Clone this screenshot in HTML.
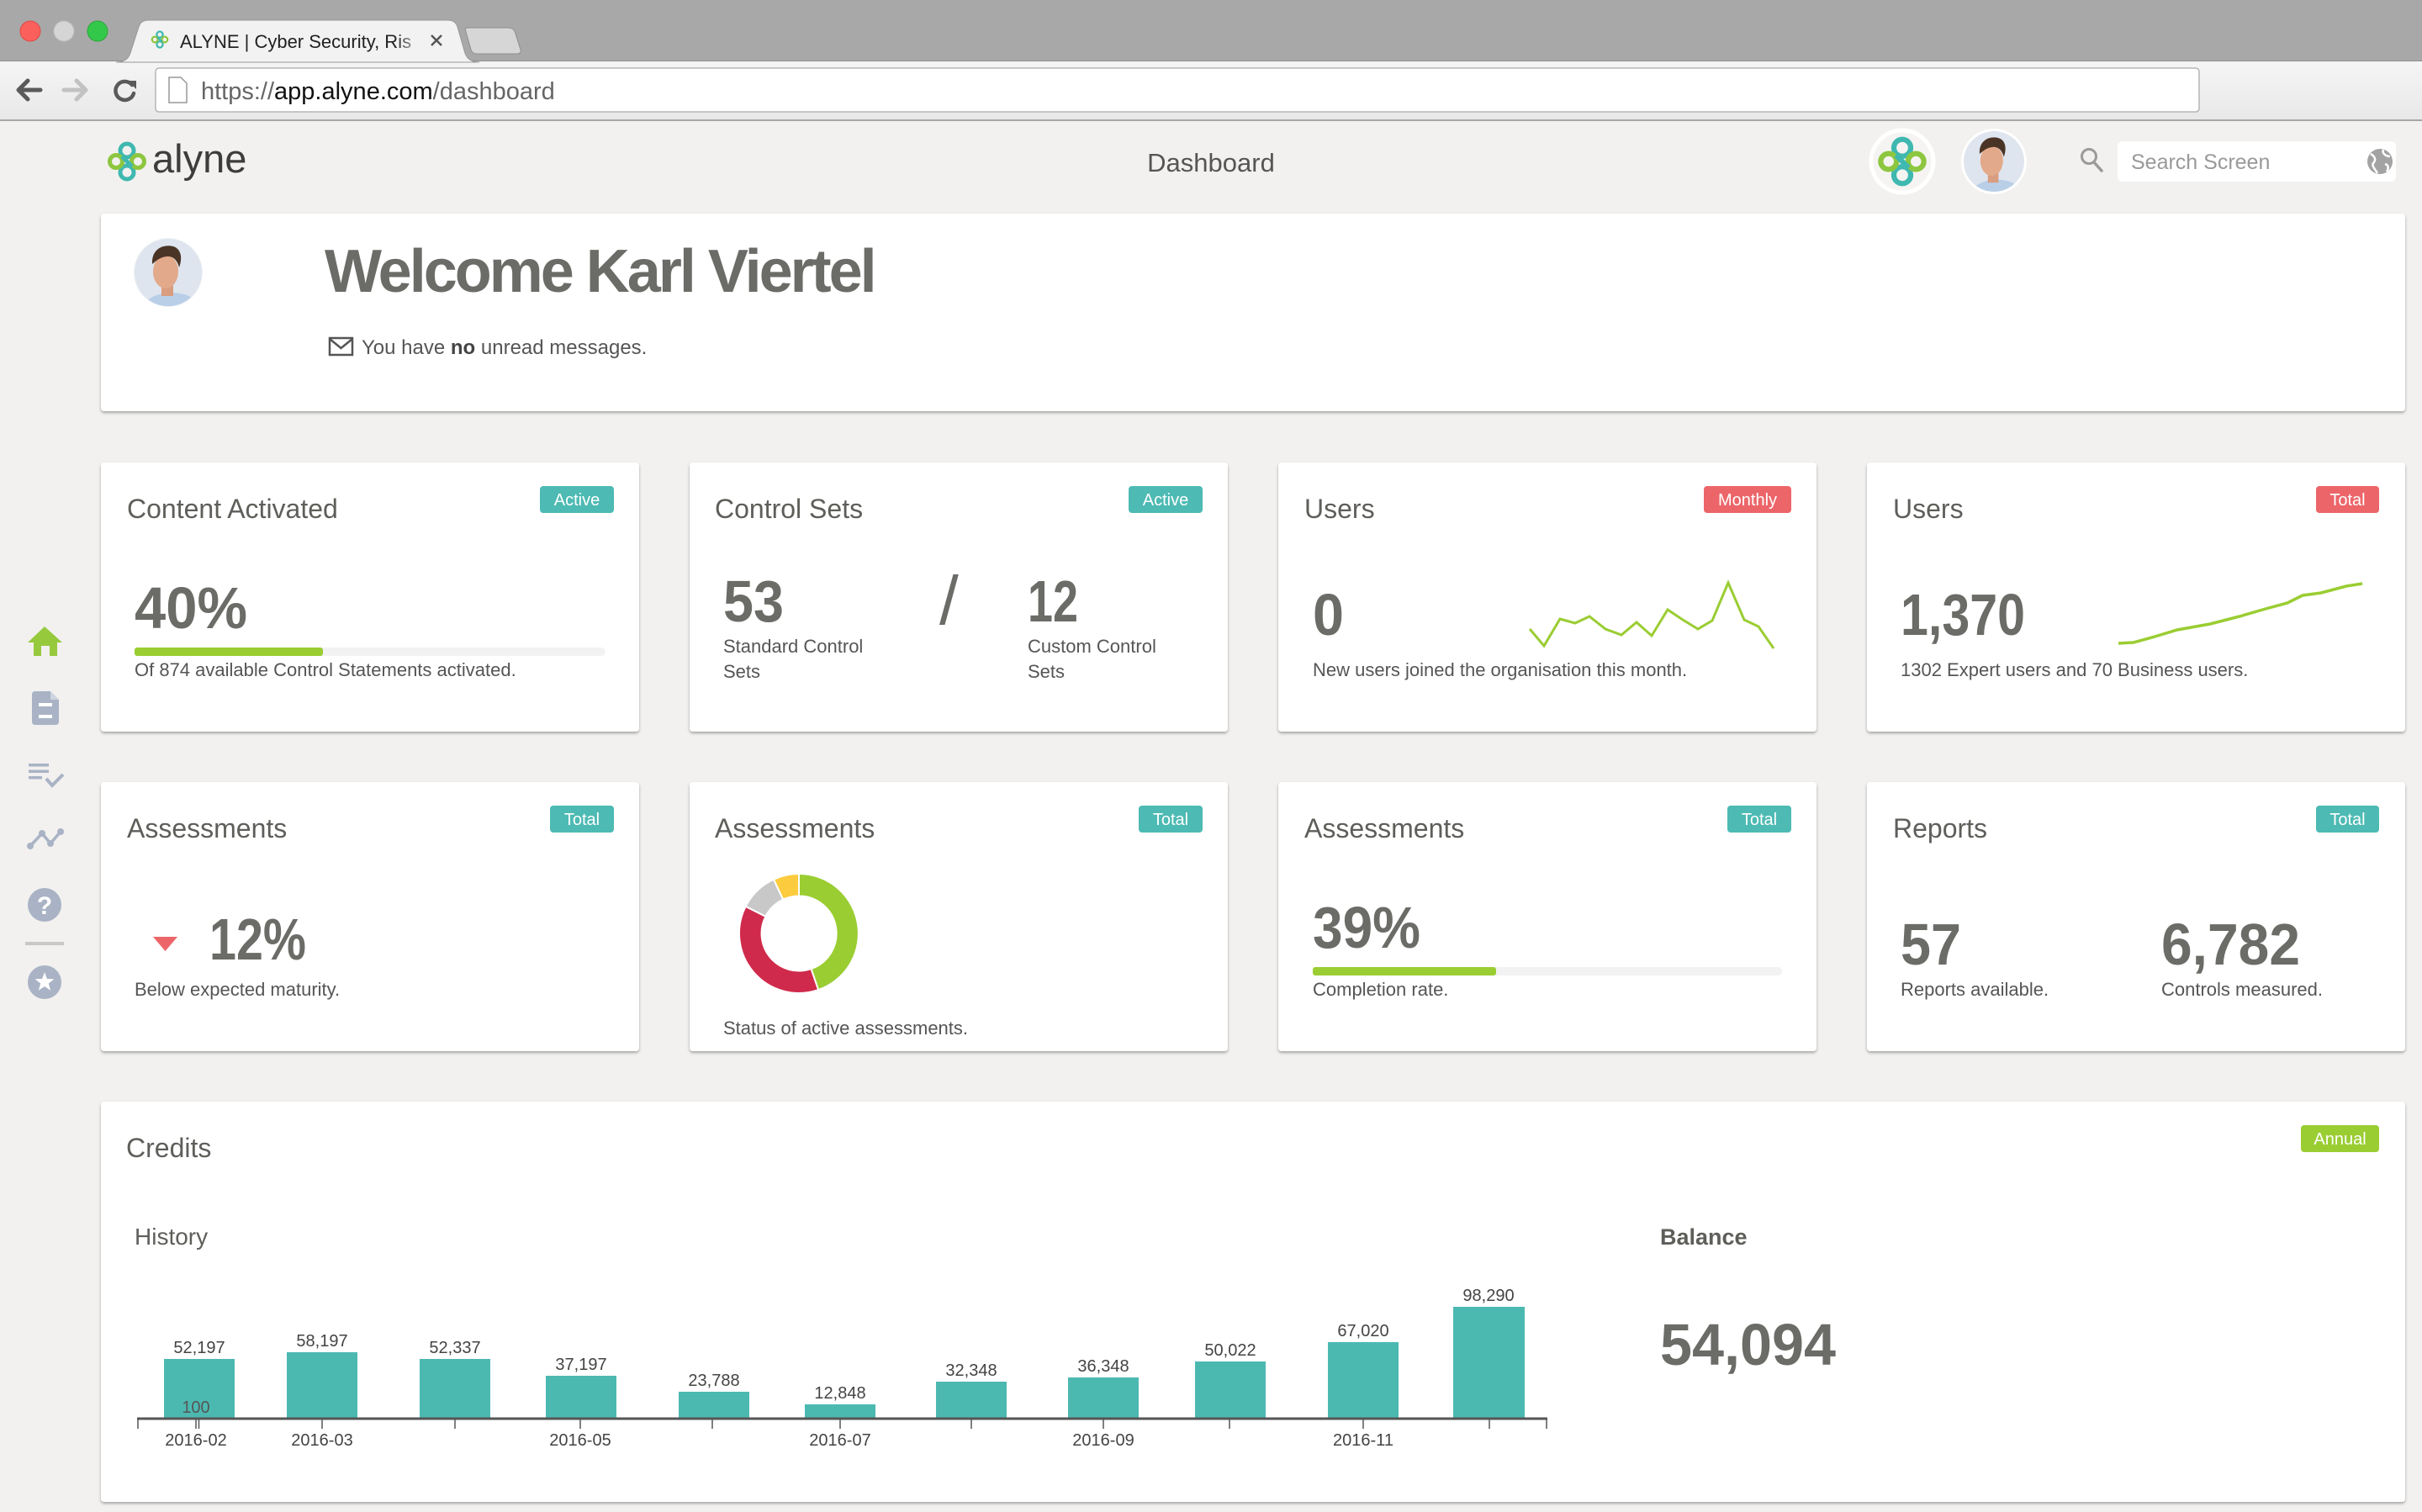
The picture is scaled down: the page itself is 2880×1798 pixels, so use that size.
<!DOCTYPE html>
<html><head><meta charset="utf-8">
<style>
html,body{margin:0;padding:0;background:#f2f1ef;}
svg{display:block;}
text{font-family:"Liberation Sans",Arial,sans-serif;}
</style></head>
<body>
<svg width="2880" height="1798" viewBox="0 0 2880 1798" xmlns="http://www.w3.org/2000/svg">
<defs>
<filter id="sh" x="-3%" y="-5%" width="106%" height="115%">
<feDropShadow dx="0" dy="2" stdDeviation="1.6" flood-color="#000" flood-opacity="0.32"/>
</filter>
<linearGradient id="tb" x1="0" y1="0" x2="0" y2="1"><stop offset="0" stop-color="#f5f5f5"/><stop offset="1" stop-color="#e8e8e8"/></linearGradient>
<linearGradient id="fade" x1="0" y1="0" x2="1" y2="0"><stop offset="0" stop-color="#f2f2f2" stop-opacity="0"/><stop offset="1" stop-color="#f2f2f2" stop-opacity="1"/></linearGradient>
<clipPath id="avc"><circle cx="0" cy="0" r="40"/></clipPath>
<g id="face">
 <g clip-path="url(#avc)">
  <rect x="-40" y="-40" width="80" height="80" fill="#dfe5ee"/>
  <ellipse cx="4" cy="44" rx="34" ry="20" fill="#b9cfe8"/>
  <rect x="-8" y="10" width="14" height="18" fill="#d99d80"/>
  <ellipse cx="-3" cy="-1" rx="15" ry="20" fill="#e2a98a"/>
  <path d="M-19,-10 C-20,-28 -6,-34 6,-31 C16,-28 17,-16 13,-6 C11,-14 6,-20 -2,-19 C-10,-18 -14,-14 -19,-10 Z" fill="#4a3426"/>
 </g>
</g>
<g id="logo" fill="none" stroke-width="5">
 <circle cx="0" cy="-13" r="8" stroke="#3fb8b0"/>
 <circle cx="0" cy="13" r="8" stroke="#3fb8b0"/>
 <circle cx="-13" cy="0" r="7.5" stroke="#8dc63f"/>
 <circle cx="13" cy="0" r="7.5" stroke="#8dc63f"/>
 <line x1="-6" y1="-6" x2="6" y2="6" stroke="#3fb8b0"/>
</g>
</defs>

<!-- page bg -->
<rect x="0" y="0" width="2880" height="1798" fill="#f2f1ef"/>

<!-- browser chrome -->
<rect x="0" y="0" width="2880" height="73" fill="#a8a8a8"/>
<circle cx="36" cy="37" r="12" fill="#fc605c" stroke="#de4a45" stroke-width="1"/>
<circle cx="76" cy="37" r="12" fill="#d5d5d5" stroke="#bdbdbd" stroke-width="1"/>
<circle cx="116" cy="37" r="12" fill="#34c84a" stroke="#2aa63b" stroke-width="1"/>
<rect x="0" y="73" width="2880" height="70" fill="url(#tb)"/>
<line x1="0" y1="72.5" x2="2880" y2="72.5" stroke="#8f8f8f" stroke-width="1"/>
<path d="M138,74 C150,74 154,68 156,60 L165,32 C167,26 171,24 177,24 L532,24 C538,24 542,26 544,32 L552,60 C554,68 558,74 570,74 Z" fill="#f2f2f2" stroke="#999" stroke-width="1"/>
<path d="M556,33 L604,33 C609,33 612,36 613,40 L619,59 C620,62 618,64 615,64 L567,64 C563,64 561,62 560,59 L554,38 C553,35 553,33 556,33 Z" fill="#d6d6d6" stroke="#8e8e8e" stroke-width="1"/>
<use href="#logo" transform="translate(190,47) scale(0.45)"/>
<text x="214" y="57" font-size="22" fill="#222">ALYNE | Cyber Security, Ris</text>
<rect x="470" y="30" width="36" height="36" fill="url(#fade)"/>
<line x1="513" y1="42" x2="525" y2="54" stroke="#555" stroke-width="2.5"/>
<line x1="525" y1="42" x2="513" y2="54" stroke="#555" stroke-width="2.5"/>
<line x1="0" y1="143" x2="2880" y2="143" stroke="#a6a6a6" stroke-width="2"/>
<!-- nav buttons -->
<g fill="none" stroke-linecap="round" stroke-linejoin="round">
 <path d="M22,107 L48,107 M33,96 L22,107 L33,118" stroke="#5a5a5a" stroke-width="5"/>
 <path d="M76,107 L102,107 M91,96 L102,107 L91,118" stroke="#c2c2c2" stroke-width="5"/>
 <path d="M157,101 A11,11 0 1 0 159,111" stroke="#5a5a5a" stroke-width="4.5"/>
</g>
<path d="M152,96 L162,96 L162,106 Z" fill="#5a5a5a"/>
<rect x="185" y="81" width="2430" height="52" rx="4" fill="#fff" stroke="#b5b5b5" stroke-width="1.5"/>
<path d="M201,92 L215,92 L222,99 L222,122 L201,122 Z" fill="#fff" stroke="#999" stroke-width="1.5"/>
<text x="239" y="118" font-size="29" fill="#666">https://<tspan fill="#111">app.alyne.com</tspan>/dashboard</text>

<!-- header -->
<use href="#logo" transform="translate(151,192)"/>
<text x="181" y="205" font-size="47" fill="#3d3d3d">alyne</text>
<text x="1440" y="204" font-size="31" fill="#555" text-anchor="middle">Dashboard</text>
<circle cx="2262" cy="192" r="37" fill="#f5f4f2" stroke="#fff" stroke-width="5"/>
<use href="#logo" transform="translate(2262,192) scale(1.25)"/>
<circle cx="2371" cy="192" r="39" fill="#fff"/>
<use href="#face" transform="translate(2371,192) scale(0.9)"/>
<circle cx="2484" cy="186" r="8.5" fill="none" stroke="#9a9a9a" stroke-width="3"/>
<line x1="2490" y1="193" x2="2499" y2="203" stroke="#9a9a9a" stroke-width="3.5" stroke-linecap="round"/>
<rect x="2518" y="168" width="331" height="48" rx="6" fill="#fff"/>
<text x="2534" y="201" font-size="25" fill="#999">Search Screen</text>
<circle cx="2830" cy="192" r="15" fill="#a3a3a3"/>
<path d="M2819,183 C2824,186 2826,190 2822,194 C2820,197 2824,201 2827,206 M2834,178 C2832,183 2838,186 2842,186 M2836,195 C2840,196 2841,200 2838,204" fill="none" stroke="#fff" stroke-width="2.5"/>

<!-- sidebar -->
<g>
 <path d="M53,745 L74,764 L68,764 L68,780 L59,780 L59,768 L49,768 L49,780 L40,780 L40,764 L33,764 Z" fill="#97c93d"/>
 <path d="M42,822 L60,822 L70,832 L70,858 Q70,862 66,862 L42,862 Q38,862 38,858 L38,826 Q38,822 42,822 Z" fill="#a9b3c5"/>
 <path d="M60,822 L60,832 L70,832 Z" fill="#ced4df"/>
 <rect x="46" y="836" width="16" height="4" fill="#fff"/>
 <rect x="46" y="850" width="16" height="4" fill="#fff"/>
 <rect x="34" y="908" width="24" height="3.5" fill="#a9b3c5"/>
 <rect x="34" y="915.5" width="24" height="3.5" fill="#a9b3c5"/>
 <rect x="34" y="923" width="16" height="3.5" fill="#a9b3c5"/>
 <polyline points="55,926 62,934 75,921" fill="none" stroke="#a9b3c5" stroke-width="4"/>
 <polyline points="36,1006 50,991 60,1003 72,989" fill="none" stroke="#a9b3c5" stroke-width="3.5"/>
 <circle cx="36" cy="1006" r="4" fill="#a9b3c5"/>
 <circle cx="50" cy="991" r="4" fill="#a9b3c5"/>
 <circle cx="60" cy="1003" r="4" fill="#a9b3c5"/>
 <circle cx="72" cy="989" r="4" fill="#a9b3c5"/>
 <circle cx="53" cy="1076" r="20" fill="#a9b3c5"/>
 <text x="53" y="1087" font-size="30" font-weight="bold" fill="#fff" text-anchor="middle">?</text>
 <rect x="30" y="1120" width="46" height="4" fill="#c8c8c8"/>
 <circle cx="53" cy="1168" r="20" fill="#a9b3c5"/>
 <polygon points="53,1156 55.9,1164 64.4,1164.3 57.8,1169.5 60.1,1177.7 53,1173 45.9,1177.7 48.2,1169.5 41.6,1164.3 50.1,1164" fill="#fff"/>
</g>

<!-- welcome card -->
<rect x="120" y="254" width="2740" height="235" rx="4" fill="#fff" filter="url(#sh)"/>
<circle cx="200" cy="324" r="41" fill="#eef1f5"/>
<use href="#face" transform="translate(200,324)"/>
<text x="386" y="347" font-size="72" font-weight="bold" fill="#6b6b67" letter-spacing="-3">Welcome Karl Viertel</text>
<rect x="392" y="402" width="27" height="20" fill="none" stroke="#555" stroke-width="2.5"/>
<polyline points="392,403 405.5,414 419,403" fill="none" stroke="#555" stroke-width="2.5"/>
<text x="430" y="421" font-size="24" fill="#555">You have <tspan font-weight="bold" fill="#444">no</tspan> unread messages.</text>

<!-- cards row 1 -->
<g filter="url(#sh)" fill="#fff">
 <rect x="120" y="550" width="640" height="320" rx="4"/>
 <rect x="820" y="550" width="640" height="320" rx="4"/>
 <rect x="1520" y="550" width="640" height="320" rx="4"/>
 <rect x="2220" y="550" width="640" height="320" rx="4"/>
 <rect x="120" y="930" width="640" height="320" rx="4"/>
 <rect x="820" y="930" width="640" height="320" rx="4"/>
 <rect x="1520" y="930" width="640" height="320" rx="4"/>
 <rect x="2220" y="930" width="640" height="320" rx="4"/>
 <rect x="120" y="1310" width="2740" height="476" rx="4"/>
</g>

<!-- titles -->
<g font-size="32" fill="#5e5e5a">
 <text x="151" y="616">Content Activated</text>
 <text x="850" y="616">Control Sets</text>
 <text x="1551" y="616">Users</text>
 <text x="2251" y="616">Users</text>
 <text x="151" y="996">Assessments</text>
 <text x="850" y="996">Assessments</text>
 <text x="1551" y="996">Assessments</text>
 <text x="2251" y="996">Reports</text>
 <text x="150" y="1376">Credits</text>
</g>

<!-- badges -->
<g>
 <rect x="642" y="578" width="88" height="32" rx="4" fill="#4dbab3"/>
 <rect x="1342" y="578" width="88" height="32" rx="4" fill="#4dbab3"/>
 <rect x="2026" y="578" width="104" height="32" rx="4" fill="#ec6569"/>
 <rect x="2754" y="578" width="75" height="32" rx="4" fill="#ec6569"/>
 <rect x="654" y="958" width="76" height="32" rx="4" fill="#4dbab3"/>
 <rect x="1354" y="958" width="76" height="32" rx="4" fill="#4dbab3"/>
 <rect x="2054" y="958" width="76" height="32" rx="4" fill="#4dbab3"/>
 <rect x="2754" y="958" width="75" height="32" rx="4" fill="#4dbab3"/>
 <rect x="2736" y="1338" width="93" height="32" rx="4" fill="#9acd32"/>
</g>
<g font-size="20" fill="#fff" text-anchor="middle">
 <text x="686" y="601">Active</text>
 <text x="1386" y="601">Active</text>
 <text x="2078" y="601">Monthly</text>
 <text x="2791.5" y="601">Total</text>
 <text x="692" y="981">Total</text>
 <text x="1392" y="981">Total</text>
 <text x="2092" y="981">Total</text>
 <text x="2791.5" y="981">Total</text>
 <text x="2782.5" y="1361">Annual</text>
</g>

<!-- big numbers -->
<g font-size="70" font-weight="bold" fill="#6b6b67">
 <text x="160" y="747" textLength="134" lengthAdjust="spacingAndGlyphs">40%</text>
 <text x="860" y="739" textLength="72" lengthAdjust="spacingAndGlyphs">53</text>
 <text x="1222" y="739" textLength="60" lengthAdjust="spacingAndGlyphs">12</text>
 <text x="1561" y="755" textLength="37" lengthAdjust="spacingAndGlyphs">0</text>
 <text x="2260" y="755" textLength="148" lengthAdjust="spacingAndGlyphs">1,370</text>
 <text x="249" y="1141" textLength="115" lengthAdjust="spacingAndGlyphs">12%</text>
 <text x="1561" y="1127" textLength="128" lengthAdjust="spacingAndGlyphs">39%</text>
 <text x="2260" y="1147" textLength="72" lengthAdjust="spacingAndGlyphs">57</text>
 <text x="2570" y="1147" textLength="165" lengthAdjust="spacingAndGlyphs">6,782</text>
 <text x="1974" y="1623" textLength="209" lengthAdjust="spacingAndGlyphs">54,094</text>
</g>
<text x="1117" y="742" font-size="82" fill="#6b6b67">/</text>

<!-- progress bars -->
<rect x="160" y="770" width="560" height="10" rx="5" fill="#f2f2f2"/>
<rect x="160" y="770" width="224" height="10" rx="3" fill="#9acd32"/>
<rect x="1561" y="1150" width="558" height="10" rx="5" fill="#f2f2f2"/>
<rect x="1561" y="1150" width="218" height="10" rx="3" fill="#9acd32"/>

<!-- triangle -->
<polygon points="182,1114 211,1114 196.5,1131" fill="#ec6569"/>

<!-- sparklines -->
<polyline points="1819,748 1836,768 1855,736 1873,741 1890,733 1909,748 1928,755 1946,740 1964,756 1983,725 2001,737 2019,748 2036,738 2055,693 2074,737 2091,745 2109,771" fill="none" stroke="#9acd32" stroke-width="3" stroke-linejoin="miter"/>
<polyline points="2519,765 2537,764 2559,758 2589,749 2628,742 2663,733 2694,724 2720,717 2738,708 2760,705 2790,697 2809,694" fill="none" stroke="#9acd32" stroke-width="3.5"/>

<!-- donut -->
<g stroke="#fff" stroke-width="2" stroke-linejoin="round">
 <path d="M950,1039 A71,71 0 0 1 973.1,1177.1 L964.5,1152.1 A44.5,44.5 0 0 0 950,1065.5 Z" fill="#9acd32"/>
 <path d="M973.1,1177.1 A71,71 0 0 1 886.7,1077.8 L910.4,1089.8 A44.5,44.5 0 0 0 964.5,1152.1 Z" fill="#cf2a4b"/>
 <path d="M886.7,1077.8 A71,71 0 0 1 920,1045.7 L931.2,1069.7 A44.5,44.5 0 0 0 910.4,1089.8 Z" fill="#c8c8c8"/>
 <path d="M920,1045.7 A71,71 0 0 1 950,1039 L950,1065.5 A44.5,44.5 0 0 0 931.2,1069.7 Z" fill="#fdcb3e"/>
</g>

<!-- captions -->
<g font-size="22" fill="#555">
 <text x="160" y="804">Of 874 available Control Statements activated.</text>
 <text x="860" y="776">Standard Control</text>
 <text x="860" y="806">Sets</text>
 <text x="1222" y="776">Custom Control</text>
 <text x="1222" y="806">Sets</text>
 <text x="1561" y="804">New users joined the organisation this month.</text>
 <text x="2260" y="804">1302 Expert users and 70 Business users.</text>
 <text x="160" y="1184">Below expected maturity.</text>
 <text x="860" y="1230">Status of active assessments.</text>
 <text x="1561" y="1184">Completion rate.</text>
 <text x="2260" y="1184">Reports available.</text>
 <text x="2570" y="1184">Controls measured.</text>
</g>

<!-- credits -->
<text x="160" y="1480" font-size="28" fill="#5e5e5a">History</text>
<text x="1974" y="1480" font-size="27" font-weight="bold" fill="#5e5e5a">Balance</text>

<g fill="#4cb9b1">
 <rect x="195" y="1616" width="84" height="71"/>
 <rect x="341" y="1608" width="84" height="79"/>
 <rect x="499" y="1616" width="84" height="71"/>
 <rect x="649" y="1636" width="84" height="51"/>
 <rect x="807" y="1655" width="84" height="32"/>
 <rect x="957" y="1670" width="84" height="17"/>
 <rect x="1113" y="1643" width="84" height="44"/>
 <rect x="1270" y="1638" width="84" height="49"/>
 <rect x="1421" y="1619" width="84" height="68"/>
 <rect x="1579" y="1596" width="84" height="91"/>
 <rect x="1728" y="1554" width="85" height="133"/>
</g>
<g font-size="20" fill="#444" text-anchor="middle">
 <text x="237" y="1609">52,197</text>
 <text x="383" y="1601">58,197</text>
 <text x="541" y="1609">52,337</text>
 <text x="691" y="1629">37,197</text>
 <text x="849" y="1648">23,788</text>
 <text x="999" y="1663">12,848</text>
 <text x="1155" y="1636">32,348</text>
 <text x="1312" y="1631">36,348</text>
 <text x="1463" y="1612">50,022</text>
 <text x="1621" y="1589">67,020</text>
 <text x="1770" y="1547">98,290</text>
 <text x="233" y="1680" fill="#555">100</text>
</g>
<line x1="163" y1="1687" x2="1840" y2="1687" stroke="#555" stroke-width="3"/>
<g stroke="#555" stroke-width="1.5">
 <line x1="164" y1="1687" x2="164" y2="1699"/>
 <line x1="233" y1="1687" x2="233" y2="1699"/>
 <line x1="236.5" y1="1687" x2="236.5" y2="1699"/>
 <line x1="383" y1="1687" x2="383" y2="1699"/>
 <line x1="541" y1="1687" x2="541" y2="1699"/>
 <line x1="690" y1="1687" x2="690" y2="1699"/>
 <line x1="847" y1="1687" x2="847" y2="1699"/>
 <line x1="999" y1="1687" x2="999" y2="1699"/>
 <line x1="1155" y1="1687" x2="1155" y2="1699"/>
 <line x1="1312" y1="1687" x2="1312" y2="1699"/>
 <line x1="1462" y1="1687" x2="1462" y2="1699"/>
 <line x1="1621" y1="1687" x2="1621" y2="1699"/>
 <line x1="1771" y1="1687" x2="1771" y2="1699"/>
 <line x1="1839" y1="1687" x2="1839" y2="1699"/>
</g>
<g font-size="20" fill="#444" text-anchor="middle">
 <text x="233" y="1719">2016-02</text>
 <text x="383" y="1719">2016-03</text>
 <text x="690" y="1719">2016-05</text>
 <text x="999" y="1719">2016-07</text>
 <text x="1312" y="1719">2016-09</text>
 <text x="1621" y="1719">2016-11</text>
</g>
</svg>
</body></html>
